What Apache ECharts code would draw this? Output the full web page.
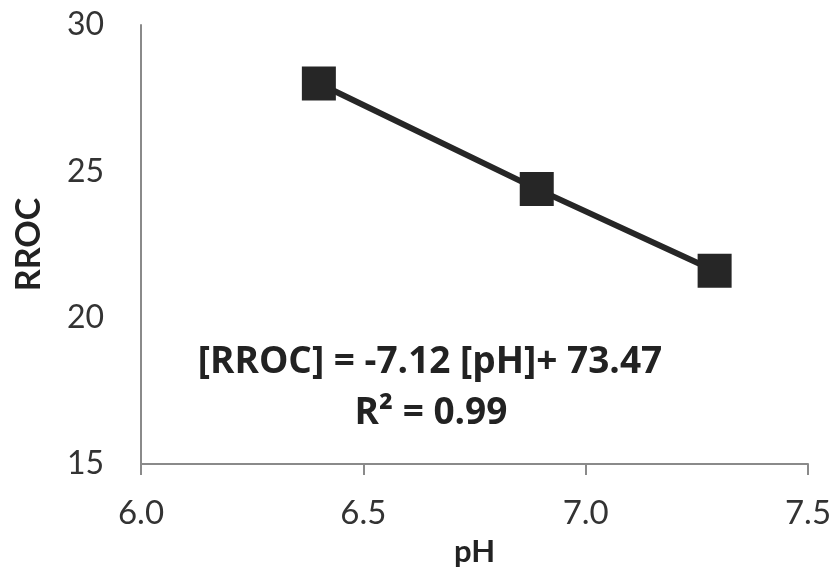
<!DOCTYPE html>
<html>
<head>
<meta charset="utf-8">
<script src="https://cdn.jsdelivr.net/npm/echarts@6/dist/echarts.min.js"></script>
<style>
  html, body { margin: 0; padding: 0; background: #fff; }
  #main { width: 839px; height: 572px; }
</style>
</head>
<body>
<div id="main"></div>
<script>
// data
var phValues = [6.40, 6.89, 7.29];
var rrocValues = [28.0, 24.4, 21.6];
var xTicks = [6.0, 6.5, 7.0, 7.5];
var yTicks = [15, 20, 25, 30];
var fitText = '[RROC] = -7.12 [pH]+ 73.47';
var r2Text = 'R² = 0.99';

var points = phValues.map(function (x, i) { return [x, rrocValues[i]]; });

var font = 'Lato, "Open Sans", sans-serif';
var noteFont = '"Open Sans", Lato, sans-serif';

var chart = echarts.init(document.getElementById('main'));

var option = {
  animation: false,
  backgroundColor: '#fff',
  grid: { left: 141, right: 31, top: 25, bottom: 103 },
  xAxis: {
    type: 'value',
    min: xTicks[0],
    max: xTicks[xTicks.length - 1],
    interval: 0.5,
    name: 'pH',
    nameLocation: 'middle',
    nameGap: 72,
    nameTextStyle: { fontFamily: font, fontSize: 31, fontWeight: 'bold', color: '#222' },
    axisLine: { lineStyle: { color: '#8a8a8a', width: 2 } },
    axisTick: { show: true, length: 11, lineStyle: { color: '#8a8a8a', width: 2 } },
    axisLabel: {
      fontFamily: font, fontSize: 33, color: '#333', margin: 33,
      formatter: function (v) { return v.toFixed(1); }
    },
    splitLine: { show: false }
  },
  yAxis: {
    type: 'value',
    min: yTicks[0],
    max: yTicks[yTicks.length - 1],
    interval: 5,
    name: 'RROC',
    nameLocation: 'middle',
    nameGap: 95,
    nameTextStyle: { fontFamily: font, fontSize: 34, fontWeight: 'bold', color: '#222' },
    axisLine: { show: true, lineStyle: { color: '#8a8a8a', width: 2 } },
    axisTick: { show: false },
    axisLabel: { fontFamily: font, fontSize: 32, color: '#333', margin: 37 },
    splitLine: { show: false }
  },
  series: [{
    type: 'line',
    data: points,
    symbol: 'rect',
    symbolSize: 34,
    lineStyle: { color: '#262626', width: 6 },
    itemStyle: { color: '#262626' }
  }],
  graphic: [
    {
      type: 'text', x: 430, y: 362,
      style: { text: fitText, font: 'bold 37px ' + noteFont, fill: '#222', align: 'center', verticalAlign: 'middle' }
    },
    {
      type: 'text', x: 431, y: 413,
      style: { text: r2Text, font: 'bold 37px ' + noteFont, fill: '#222', align: 'center', verticalAlign: 'middle' }
    }
  ]
};

chart.setOption(option);
</script>
</body>
</html>
